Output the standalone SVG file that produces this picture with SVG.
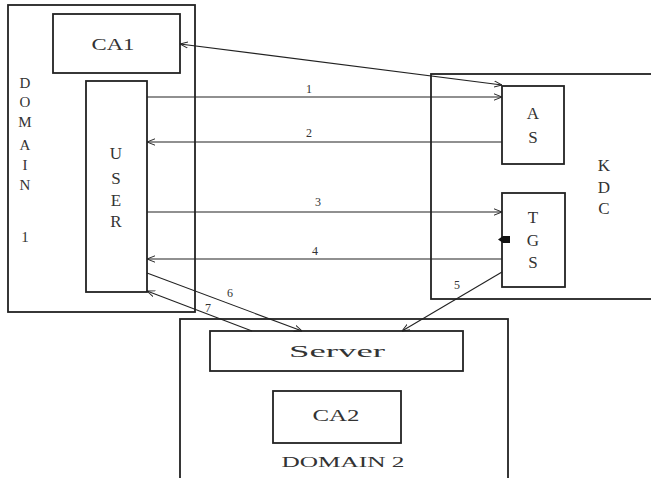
<svg xmlns="http://www.w3.org/2000/svg" width="651" height="478" viewBox="0 0 651 478">
<defs>
<marker id="arr" viewBox="0 0 10 10" refX="10" refY="5" markerWidth="8" markerHeight="8" orient="auto-start-reverse" markerUnits="userSpaceOnUse">
<path d="M0,1 L10,5 L0,9" fill="none" stroke="#222" stroke-width="1.2"/>
</marker>
<style>
.box{fill:none;stroke:#222;stroke-width:1.8}
.c{stroke:#222;stroke-width:1.1;fill:none}
text{font-family:"Liberation Serif","DejaVu Serif",serif;fill:#333;text-anchor:middle}
.lt{font-size:17px}
.vl{font-size:15px}
.n{font-size:12px}
</style>
</defs>
<rect width="651" height="478" fill="#fff"/>
<g id="domain1">
<rect class="box" x="8" y="5" width="187" height="307"/>
<text class="vl" x="25" y="88">D</text>
<text class="vl" x="25" y="107">O</text>
<text class="vl" x="25" y="127">M</text>
<text class="vl" x="25" y="150">A</text>
<text class="vl" x="25" y="170">I</text>
<text class="vl" x="25" y="190">N</text>
<text class="vl" x="25" y="242">1</text>
</g>
<g id="ca1">
<rect class="box" x="53" y="14" width="127" height="59"/>
<text class="lt" x="113" y="50" textLength="43" lengthAdjust="spacingAndGlyphs">CA1</text>
</g>
<g id="user">
<rect class="box" x="86" y="81" width="61" height="211"/>
<text class="lt" x="116" y="159">U</text>
<text class="lt" x="116" y="184">S</text>
<text class="lt" x="116" y="206">E</text>
<text class="lt" x="116" y="227">R</text>
</g>
<g id="kdc">
<rect class="box" x="431" y="74" width="230" height="225"/>
<text class="lt" x="604" y="171">K</text>
<text class="lt" x="604" y="193">D</text>
<text class="lt" x="604" y="214">C</text>
</g>
<g id="as">
<rect class="box" x="502" y="86" width="62" height="78"/>
<text class="lt" x="533" y="119">A</text>
<text class="lt" x="533" y="143">S</text>
</g>
<g id="tgs">
<rect class="box" x="502" y="193" width="63" height="94"/>
<text class="lt" x="533" y="223">T</text>
<text class="lt" x="533" y="246">G</text>
<text class="lt" x="533" y="268">S</text>
<path d="M503,236 L510,236 L510,243 L503,243 Z M503,236 L498,239.5 L503,243" fill="#111" stroke="none"/>
</g>
<g id="domain2">
<rect class="box" x="180" y="319" width="328" height="170"/>
<text class="vl" x="343" y="467" textLength="123" lengthAdjust="spacingAndGlyphs">DOMAIN 2</text>
</g>
<g id="server">
<rect class="box" x="210" y="331" width="253" height="40"/>
<text class="lt" x="337" y="357" textLength="96" lengthAdjust="spacingAndGlyphs">Server</text>
</g>
<g id="ca2">
<rect class="box" x="273" y="391" width="128" height="52"/>
<text class="lt" x="336" y="421" textLength="47" lengthAdjust="spacingAndGlyphs">CA2</text>
</g>
<g id="connectors">
<line class="c" x1="180" y1="44" x2="502" y2="85" marker-start="url(#arr)" marker-end="url(#arr)"/>
<line class="c" x1="147" y1="97" x2="502" y2="97" marker-end="url(#arr)"/>
<line class="c" x1="502" y1="142" x2="147" y2="142" marker-end="url(#arr)"/>
<line class="c" x1="147" y1="212" x2="502" y2="212" marker-end="url(#arr)"/>
<line class="c" x1="502" y1="259" x2="147" y2="259" marker-end="url(#arr)"/>
<line class="c" x1="502" y1="272" x2="402" y2="331" marker-end="url(#arr)"/>
<line class="c" x1="147" y1="273" x2="302" y2="331" marker-end="url(#arr)"/>
<line class="c" x1="252" y1="331" x2="147" y2="291" marker-end="url(#arr)"/>
<text class="n" x="309" y="93">1</text>
<text class="n" x="309" y="137">2</text>
<text class="n" x="318" y="206">3</text>
<text class="n" x="315" y="255">4</text>
<text class="n" x="457" y="289">5</text>
<text class="n" x="230" y="297">6</text>
<text class="n" x="208" y="312">7</text>
</g>
</svg>
